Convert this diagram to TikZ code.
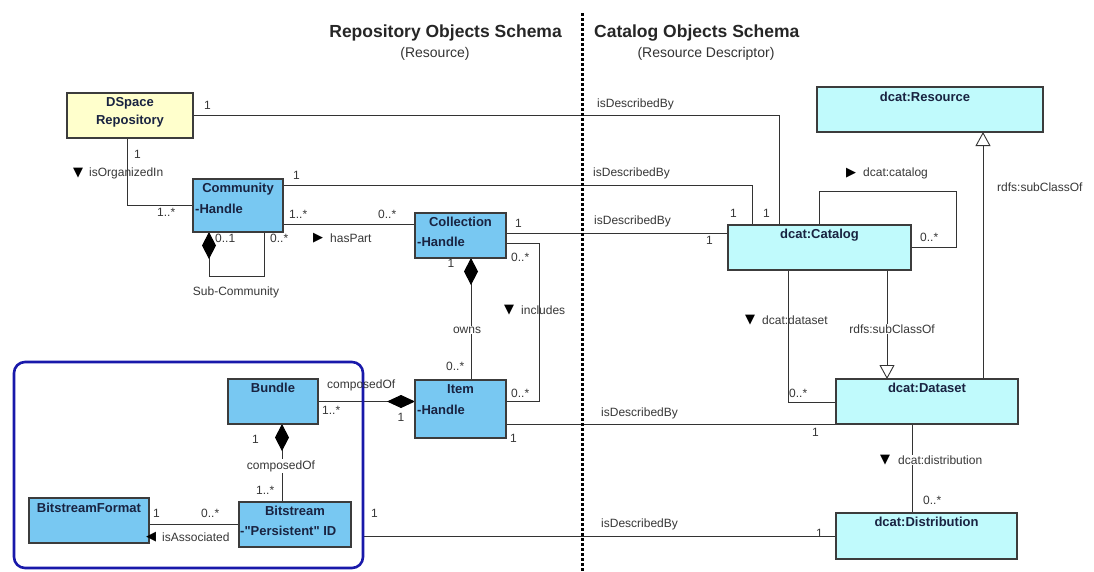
\documentclass[tikz,border=0pt]{standalone}
\usepackage{fontspec}
\newfontfamily\mf{Liberation Sans}
\newfontfamily\symf{DejaVu Sans}
\usetikzlibrary{arrows.meta}
\definecolor{boxblue}{RGB}{120,200,242}
\definecolor{boxcyan}{RGB}{192,250,252}
\definecolor{boxyel}{RGB}{255,255,204}
\definecolor{bord}{RGB}{60,60,60}
\definecolor{navy}{RGB}{25,35,65}
\definecolor{lblc}{RGB}{55,55,55}
\definecolor{grpblue}{RGB}{25,25,170}
\pgfdeclarelayer{bg}
\pgfsetlayers{bg,main}
\begin{document}
\begin{tikzpicture}[x=1pt,y=-1pt,
 box/.style={draw=bord,line width=1.1pt,inner sep=0pt,outer sep=0pt,anchor=north west},
 bbox/.style={box,fill=boxblue},
 cbox/.style={box,fill=boxcyan},
 ybox/.style={box,fill=boxyel},
 ttl/.style={font=\mf\fontsize{13}{18}\selectfont\bfseries,text=navy,inner sep=0pt},
 attr/.style={ttl,anchor=west},
 lbl/.style={font=\mf\fontsize{12}{14}\selectfont,text=lblc,inner sep=0pt,anchor=west},
 clbl/.style={lbl,anchor=center},
 sym/.style={font=\symf\fontsize{13}{14}\selectfont,text=black,inner sep=0pt},
 hdr/.style={font=\mf\fontsize{17.5}{20}\selectfont\bfseries,text=black!85,inner sep=0pt},
 sub/.style={font=\mf\fontsize{14}{16}\selectfont,text=black!80,inner sep=0pt},
 conn/.style={draw=black!80,line width=0.9pt},
 comp/.style={conn,arrows={Diamond[length=27pt,width=14pt,fill=black,color=black]-}},
 gen/.style={conn,arrows={-Triangle[open,length=14pt,width=15pt,fill=white]}},
]
\useasboundingbox (0,0) rectangle (1094,571);

% separator
\draw[line width=3pt,dash pattern=on 2.5pt off 2.5pt] (582,13) -- (582,571);

% headers
\node[hdr,anchor=east] (h1) at (562,33) {Repository Objects Schema};
\node[sub] (h1s) at (435,54) {(Resource)};
\node[hdr,anchor=west] (h2) at (594,33) {Catalog Objects Schema};
\node[sub] (h2s) at (706,54) {(Resource Descriptor)};

% boxes
\node[ybox,minimum width=126pt,minimum height=45pt] (dspace) at (67,93) {};
\node[bbox,minimum width=90pt,minimum height=53pt] (comm) at (193,179) {};
\node[bbox,minimum width=91pt,minimum height=45pt] (coll) at (415,213) {};
\node[bbox,minimum width=91pt,minimum height=58pt] (item) at (415,380) {};
\node[bbox,minimum width=90pt,minimum height=45pt] (bundle) at (228,379) {};
\node[bbox,minimum width=112pt,minimum height=45pt] (bits) at (239,502) {};
\node[bbox,minimum width=120pt,minimum height=45pt] (bsf) at (29,498) {};
\node[cbox,minimum width=226pt,minimum height=45pt] (res) at (817,87) {};
\node[cbox,minimum width=183pt,minimum height=45pt] (cat) at (728,225) {};
\node[cbox,minimum width=182pt,minimum height=45pt] (ds) at (836,379) {};
\node[cbox,minimum width=181pt,minimum height=46pt] (dist) at (836,513) {};
\node[draw=grpblue,line width=2.6pt,rounded corners=11pt,minimum width=349pt,minimum height=206pt,inner sep=0pt,outer sep=0pt,anchor=north west] (grp) at (14,362) {};

% connectors
\begin{pgfonlayer}{bg}
\fill[white] (0,0) rectangle (1094,571);
\draw[conn] (dspace.east) -| ([xshift=51pt]cat.north west);
\draw[conn] ([yshift=-6pt]comm.north east) -| ([xshift=24pt]cat.north west);
\draw[conn] ([yshift=-20pt]coll.north east) -| (cat.west);
\draw[conn] ([yshift=14pt]item.south east) -- (ds.south west);
\draw[conn] (dist.west) -- (dist.west -| grp.east);
\draw[conn] ([xshift=-3pt]dspace.south) |- (comm.west);
\draw[conn] ([yshift=8pt]comm.south east) -| (coll.north west);
\draw[comp] ([xshift=16pt]comm.south west) -- ++(0,44) -| ([xshift=71pt]comm.south west);
\draw[comp] ([xshift=56pt]coll.south west) -- ([xshift=56pt]item.north west);
\draw[conn] ([yshift=-30pt]coll.north east) -- ++(33,0) |- ([yshift=-21pt]item.north east);
\draw[conn,arrows={-Diamond[length=28pt,width=13pt,fill=black,color=black]}] (bundle.east) -- (bundle.east -| item.west);
\draw[comp] ([xshift=54pt]bundle.south west) |- (bits.north);
\draw[conn] (bits.west) -- (bits.west -| bsf.east);
\draw[conn] ([xshift=91pt]cat.north west) -- ++(0,-34) -| ([xshift=45pt,yshift=-22pt]cat.north east) -- ([yshift=-22pt]cat.north east);
\draw[conn] ([xshift=60pt]cat.south west) |- ([yshift=-23pt]ds.north west);
\draw[gen] ([xshift=159pt]cat.south west) -- ([xshift=51pt]ds.north west);
\draw[gen] ([xshift=147pt]ds.north west) -- ([xshift=166pt]res.south west);
\draw[conn] ([xshift=76pt]ds.south west) -- ([xshift=76pt]dist.north west);
\end{pgfonlayer}

% box texts
\node[ttl,align=center] (dspace-t) at (130,112) {DSpace\\Repository};
\node[ttl] (comm-t) at ([yshift=-10pt]comm.north) {Community};
\node[attr] (comm-a) at ([xshift=2pt,yshift=-30pt]comm.north west) {-Handle};
\node[ttl] (coll-t) at ([yshift=-9pt]coll.north) {Collection};
\node[attr] (coll-a) at ([xshift=2pt,yshift=-29pt]coll.north west) {-Handle};
\node[ttl] (item-t) at ([yshift=-9pt]item.north) {Item};
\node[attr] (item-a) at ([xshift=2pt,yshift=-30pt]item.north west) {-Handle};
\node[ttl] (bundle-t) at ([yshift=-9pt]bundle.north) {Bundle};
\node[ttl] (bits-t) at ([yshift=-9pt]bits.north) {Bitstream};
\node[attr] (bits-a) at ([xshift=1pt,yshift=-29pt]bits.north west) {-"Persistent" ID};
\node[ttl] (bsf-t) at ([yshift=-10pt]bsf.north) {BitstreamFormat};
\node[ttl] (res-t) at ([xshift=-5pt,yshift=-10pt]res.north) {dcat:Resource};
\node[ttl] (cat-t) at ([yshift=-10pt]cat.north) {dcat:Catalog};
\node[ttl] (ds-t) at ([yshift=-9pt]ds.north) {dcat:Dataset};
\node[ttl] (dist-t) at ([yshift=-9pt]dist.north) {dcat:Distribution};

% connector labels
\node[lbl] (l1) at (204,105) {1};
\node[lbl] (l2) at (597,104) {isDescribedBy};
\node[lbl] (l3) at (593,173) {isDescribedBy};
\node[lbl] (l4) at (594,221) {isDescribedBy};
\node[lbl] (l5) at (763,213) {1};
\node[lbl] (l6) at (730,213) {1};
\node[lbl] (l7) at (706,240) {1};
\node[lbl] (l8) at (293,175) {1};
\node[lbl] (l9) at (134,154) {1};
\node[sym] (s1) at (78,173) {▼};
\node[lbl] (l10) at (89,173) {isOrganizedIn};
\node[lbl] (l11) at (157,212) {1..*};
\node[lbl] (l12) at (289,214) {1..*};
\node[lbl] (l13) at (378,214) {0..*};
\node[sym] (s2) at (318,238) {▶};
\node[lbl] (l14) at (330,238) {hasPart};
\node[lbl] (l15) at (215,238) {0..1};
\node[lbl] (l16) at (270,238) {0..*};
\node[clbl] (l17) at (236,292) {Sub-Community};
\node[lbl] (l18) at (515,223) {1};
\node[lbl] (l19) at (511,257) {0..*};
\node[sym] (s3) at (509,310) {▼};
\node[lbl] (l20) at (521,310) {includes};
\node[clbl] (l21) at (451,263) {1};
\node[clbl,fill=white,inner sep=1pt] (l22) at (467,330) {owns};
\node[lbl] (l23) at (446,366) {0..*};
\node[lbl] (l24) at (327,385) {composedOf};
\node[lbl] (l25) at (322,410) {1..*};
\node[clbl] (l26) at (401,417) {1};
\node[lbl] (l27) at (511,393) {0..*};
\node[lbl] (l28) at (510,438) {1};
\node[lbl] (l29) at (601,413) {isDescribedBy};
\node[lbl] (l30) at (812,432) {1};
\node[lbl] (l31) at (601,524) {isDescribedBy};
\node[lbl] (l32) at (816,533) {1};
\node[lbl] (l33) at (371,513) {1};
\node[lbl] (l34) at (252,439) {1};
\node[clbl,fill=white,inner sep=1pt] (l35) at (281,466) {composedOf};
\node[lbl] (l36) at (256,490) {1..*};
\node[lbl] (l37) at (153,513) {1};
\node[lbl] (l38) at (201,513) {0..*};
\node[sym] (s4) at (151,537) {◀};
\node[lbl] (l39) at (162,537) {isAssociated};
\node[sym] (s5) at (851,173) {▶};
\node[lbl] (l40) at (863,173) {dcat:catalog};
\node[lbl] (l41) at (920,237) {0..*};
\node[lbl] (l42) at (997,187) {rdfs:subClassOf};
\node[sym] (s6) at (750,320) {▼};
\node[lbl] (l43) at (762,320) {dcat:dataset};
\node[clbl,fill=white,inner sep=1pt] (l44) at (892,329) {rdfs:subClassOf};
\node[lbl] (l45) at (789,393) {0..*};
\node[sym] (s7) at (885,460) {▼};
\node[lbl,fill=white,inner sep=1pt] (l46) at (897,460) {dcat:distribution};
\node[lbl] (l47) at (923,500) {0..*};
\end{tikzpicture}
\end{document}
